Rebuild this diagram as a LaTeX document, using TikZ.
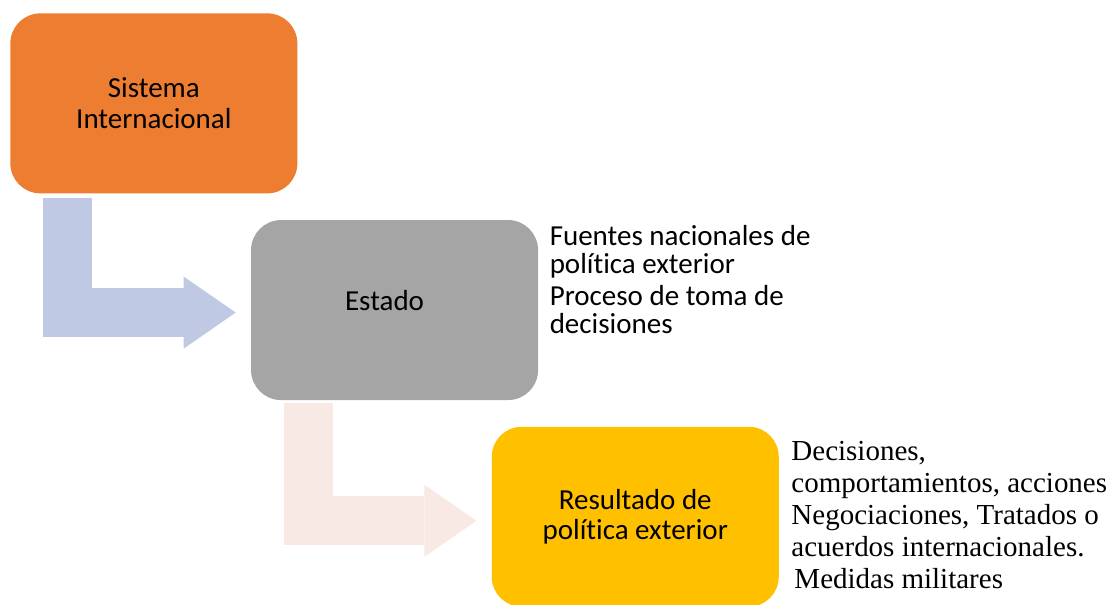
\documentclass[tikz,border=0pt]{standalone}
\usepackage{fontspec}
\setmainfont{Carlito}[Ligatures=NoCommon]
\newfontfamily\serifa{Liberation Serif}
\usepackage{tikz}
\usetikzlibrary{arrows.meta}
\usetikzlibrary{positioning}
\definecolor{naranja}{HTML}{ED7D31}
\definecolor{gris}{HTML}{A5A5A5}
\definecolor{oro}{HTML}{FFC000}
\definecolor{flechaazul}{HTML}{BFC9E3}
\definecolor{flecharosa}{HTML}{F8E9E5}
\tikzstyle{caja} = [rectangle, rounded corners=0.6cm, minimum width=5.74cm, minimum height=3.6cm, text centered, align=center, font=\fontsize{16.5}{17.6}\selectfont]
\tikzstyle{nota} = [anchor=north west, inner sep=0pt, align=left]
\tikzstyle{flecha} = [line width=0.98cm, line join=miter, -{Triangle[length=1.04cm, width=1.44cm, line width=0pt]}]

\begin{document}
\begin{tikzpicture}
    \useasboundingbox (0,0) rectangle (22.32,-12.08);
    \node(sistema)[caja, fill=naranja, anchor=north west] at (0.2,-0.26) {Sistema\\Internacional};
    \node(estado)[caja, fill=gris, below right=0.52cm and -0.94cm of sistema] {\raisebox{0.2cm}[\height][\depth]{Estado}\hspace*{0.4cm}};
    \node(resultado)[caja, fill=oro, below right=0.52cm and -0.94cm of estado] {Resultado de\\política exterior};
    \node(fuentes)[nota, font=\fontsize{16.5}{16.2}\selectfont] at ([xshift=0.22cm, yshift=-0.1cm]estado.north east) {Fuentes nacionales de\\política exterior\\[0.06cm]Proceso de toma de\\decisiones};
    \node(medidas)[nota, font=\serifa\fontsize{16.5}{18.2}\selectfont] at ([xshift=0.24cm, yshift=-0.3cm]resultado.north east) {Decisiones,\\comportamientos, acciones\\Negociaciones, Tratados o\\acuerdos internacionales.\\\hspace*{0.06cm}Medidas militares};
    \draw[flecha, flechaazul]([xshift=1.15cm, yshift=-0.08cm]sistema.south west) |- ([xshift=-0.3cm, yshift=-0.05cm]estado.west);
    \draw[flecha, flecharosa]([xshift=1.15cm, yshift=-0.06cm]estado.south west) |- ([xshift=-0.3cm, yshift=-0.08cm]resultado.west);
    %\draw[flecha](resultado) -- (medidas);
\end{tikzpicture}
\end{document}
